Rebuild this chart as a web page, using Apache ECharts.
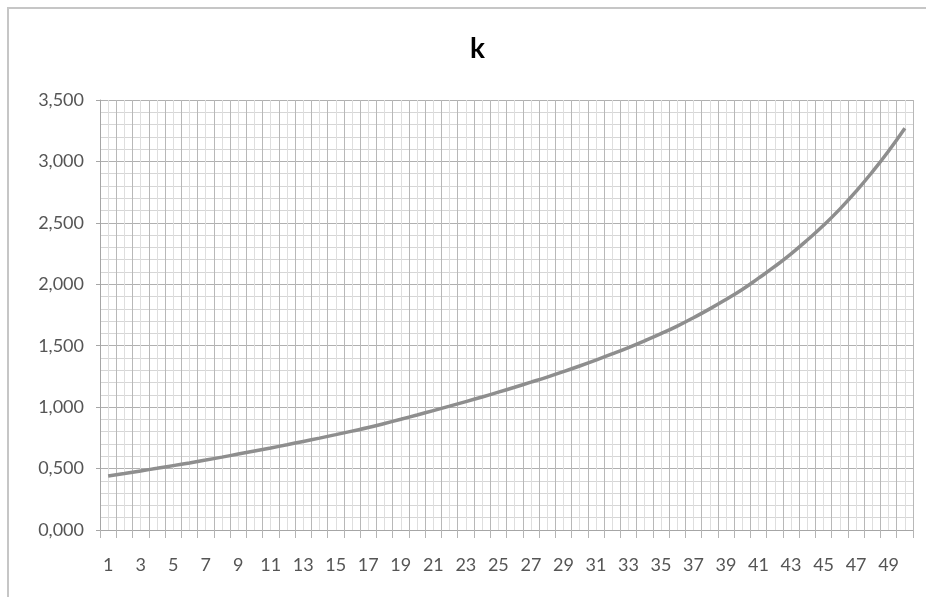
<!DOCTYPE html>
<html>
<head>
<meta charset="utf-8">
<script src="https://cdn.jsdelivr.net/npm/echarts@6/dist/echarts.min.js"></script>
<style>
html,body{margin:0;padding:0;background:#fff;}
#chart{width:926px;height:597px;}
</style>
</head>
<body>
<div id="chart"></div>
<script>
const titleText = 'k';
const categories = [];
for (let i = 1; i <= 50; i++) categories.push(String(i));
const kValues = [
  0.440, 0.460, 0.481, 0.502, 0.524, 0.546, 0.569, 0.593, 0.618, 0.643,
  0.668, 0.694, 0.721, 0.748, 0.776, 0.805, 0.834, 0.867, 0.901, 0.936,
  0.972, 1.008, 1.045, 1.083, 1.122, 1.162, 1.203, 1.245, 1.289, 1.335,
  1.383, 1.433, 1.485, 1.540, 1.598, 1.660, 1.728, 1.800, 1.877, 1.958,
  2.050, 2.145, 2.248, 2.360, 2.480, 2.612, 2.757, 2.915, 3.085, 3.270
];
const yTickLabels = ['0,000', '0,500', '1,000', '1,500', '2,000', '2,500', '3,000', '3,500'];

const chart = echarts.init(document.getElementById('chart'), null, {renderer: 'canvas'});
const labelFont = 'Lato, "DejaVu Sans", sans-serif';
chart.setOption({
  backgroundColor: '#ffffff',
  animation: false,
  graphic: [{
    type: 'rect',
    shape: {x: 8, y: 8, width: 1200, height: 1200},
    style: {fill: 'none', stroke: '#c6c6c6', lineWidth: 2},
    silent: true,
    z: -10
  }],
  title: {
    text: titleText,
    left: 465,
    top: 30,
    textStyle: {fontFamily: labelFont, fontWeight: 'bold', fontSize: 28, color: '#000'}
  },
  grid: {left: 100, right: 13, top: 100, bottom: 67, containLabel: false},
  xAxis: [{
    type: 'category',
    data: categories,
    boundaryGap: true,
    axisLine: {show: true, lineStyle: {color: '#a6a6a6', width: 1}},
    axisTick: {show: true, interval: 0, length: 8, lineStyle: {color: '#b4b4b4'}},
    axisLabel: {interval: 1, margin: 26, fontFamily: labelFont, fontSize: 18, color: '#555555'},
    splitLine: {show: false}
  }, {
    type: 'value',
    min: 0,
    max: 50,
    interval: 1,
    show: true,
    position: 'bottom',
    axisLine: {show: false},
    axisTick: {show: false},
    axisLabel: {show: false},
    splitLine: {show: true, lineStyle: {color: '#b8b8b8', width: 1}},
    minorTick: {show: false, splitNumber: 2},
    minorSplitLine: {show: true, lineStyle: {color: '#dedede', width: 1}}
  }],
  yAxis: {
    type: 'value',
    min: 0,
    max: 3.5,
    interval: 0.5,
    axisLine: {show: true, lineStyle: {color: '#a6a6a6'}},
    axisTick: {show: true, length: 4, lineStyle: {color: '#a6a6a6'}},
    axisLabel: {
      margin: 16,
      fontFamily: labelFont, fontSize: 18, color: '#555555',
      formatter: function (v) { return yTickLabels[Math.round(v / 0.5)]; }
    },
    splitLine: {show: true, lineStyle: {color: '#b0b0b0', width: 1}},
    minorTick: {show: false, splitNumber: 5},
    minorSplitLine: {show: true, lineStyle: {color: '#d6d6d6', width: 1}}
  },
  series: [{
    type: 'line',
    xAxisIndex: 0,
    data: kValues,
    smooth: 0.5,
    showSymbol: false,
    symbol: 'none',
    lineStyle: {color: '#8e8e8e', width: 3.5},
    z: 5
  }]
});
</script>
</body>
</html>
